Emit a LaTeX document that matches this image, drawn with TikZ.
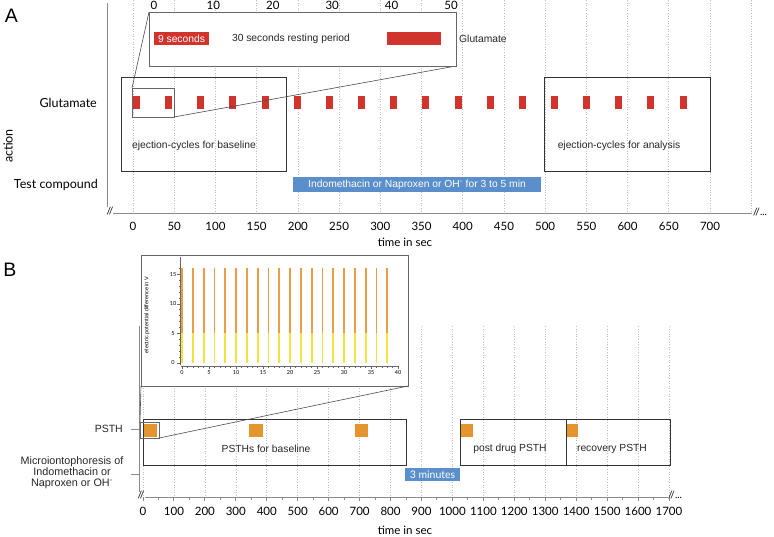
\documentclass[tikz,border=0pt]{standalone}
\usepackage{fontspec}
\setmainfont{Liberation Sans}
\newfontfamily\gill{Lato}
\definecolor{gred}{HTML}{D0342C}
\definecolor{gblue}{HTML}{5B8FCB}
\definecolor{gorange}{HTML}{E5952E}
\definecolor{gorangel}{HTML}{E69F45}
\definecolor{gyellow}{HTML}{F3E33C}
\definecolor{gridc}{HTML}{BDBDBD}
\definecolor{axisc}{HTML}{8A8A8A}
\definecolor{boxc}{HTML}{333333}
\begin{document}
\begin{tikzpicture}[x=1pt,y=-1pt,
  gridline/.style={gridc, dotted, line width=0.6pt},
  axisline/.style={axisc, line width=0.9pt},
  framebox/.style={draw=boxc, line width=0.7pt},
  zoombox/.style={draw=black!60, line width=0.6pt},
  zoomline/.style={black!70, line width=0.6pt},
  lbl/.style={font=\gill\fontsize{12.5}{14}\selectfont, inner sep=0pt},
  ticklbl/.style={font=\gill\fontsize{11.5}{13}\selectfont, inner sep=0pt},
  boxtext/.style={font=\fontsize{10.3}{12}\selectfont, text=black!85, inner sep=0pt},
  bigletter/.style={font=\fontsize{19.5}{22}\selectfont, inner sep=0pt},
  tinylbl/.style={font=\gill\fontsize{5.5}{6}\selectfont, inner sep=0pt}
]
\useasboundingbox (0,0) rectangle (774,536);

%================ Panel A ================
\foreach \t in {0,50,...,750} \draw[gridline] ({133+0.8243*\t},0) -- ({133+0.8243*\t},213);

\node[bigletter] (Alabel) at (11.5,16) {A};
\coordinate (Ay0) at (107,3);
\coordinate (Ay1) at (107,207);
\draw[axisline] (Ay0) -- (Ay1);
\node[ticklbl, font=\gill\fontsize{10}{12}\selectfont] (Abreak) at (110,211) {//};
\coordinate (Ax0) at (113,213);
\coordinate (Ax1) at (752,213);
\draw[axisline] (Ax0) -- (Ax1);
\node[ticklbl, font=\gill\fontsize{10}{12}\selectfont, anchor=west] (Aend) at (753,212) {//...};
\foreach \t in {0,50,...,700} \node[ticklbl] (At\t) at ({133+0.8243*\t},226) {\t};
\node[ticklbl] (Atime) at (405,242) {time in sec};

\node[lbl, anchor=east] (Aglu) at (97,103) {Glutamate};
\node[lbl, anchor=east] (Atest) at (98,185) {Test compound};
\node[lbl, rotate=90] (Aaction) at (8,146) {action};

% pulses
\foreach \k in {0,...,17} \fill[gred] ({133+32.15*\k},96) rectangle ++(7,13);

% boxes
\draw[framebox] (121,77) rectangle (286,171);
\node[boxtext, anchor=west] (Abase) at (132,146) {ejection-cycles for baseline};
\draw[framebox] (544,77) rectangle (710,171);
\node[boxtext] (Aanal) at (619,146) {ejection-cycles for analysis};

% zoom box and inset
\draw[zoombox] (132,88) rectangle (174,117);
\coordinate (zA1) at (132,88);
\coordinate (zA2) at (174,117);
\coordinate (iA1) at (149,12);
\coordinate (iA2) at (456,66);
\draw[zoomline] (zA1) -- (iA1);
\draw[zoomline] (zA2) -- (iA2);
\draw[fill=white, draw=black!60, line width=0.6pt] (149,12) rectangle (456,66);
\foreach \s in {0,10,...,50} \node[ticklbl] (Ai\s) at ({154+5.94*\s},5.5) {\s};
\node[fill=gred, text=white, minimum width=55pt, minimum height=13pt, inner sep=0pt, font=\fontsize{10.3}{12}\selectfont] (Anine) at (181.5,38.5) {9 seconds};
\node[boxtext] (Arest) at (291,38.5) {30 seconds resting period};
\fill[gred] (387,32) rectangle (441,45);
\node[boxtext, anchor=west] (Aiglu) at (459,38.5) {Glutamate};

% test compound bar
\node[fill=gblue, text=white, minimum width=248pt, minimum height=15pt, inner sep=0pt, font=\fontsize{10.3}{12}\selectfont] (Ablue) at (417,184.5) {Indomethacin or Naproxen or OH\textsuperscript{-} for 3 to 5 min};

%================ Panel B ================
\foreach \t in {0,100,...,1700} \draw[gridline] ({143+0.3094*\t},326) -- ({143+0.3094*\t},497);

\node[bigletter] (Blabel) at (10,270) {B};
\coordinate (By0) at (139,326);
\coordinate (By1) at (139,492);
\draw[axisline] (By0) -- (By1);
\node[ticklbl, font=\gill\fontsize{10}{12}\selectfont] (Bbreak) at (141,495) {//};
\coordinate (Bx0) at (145,497);
\coordinate (Bx1) at (668,497);
\draw[axisline] (Bx0) -- (Bx1);
\foreach \t in {0,100,...,1700} \draw[axisline] ({143+0.3094*\t},497) -- ++(0,4);
\foreach \t in {50,150,...,1650} \draw[axisline] ({143+0.3094*\t},497) -- ++(0,2.5);
\node[ticklbl, font=\gill\fontsize{10}{12}\selectfont, anchor=west] (Bend) at (668,495) {//...};
\foreach \t in {0,100,...,1700} \node[ticklbl] (Bt\t) at ({143+0.3094*\t},511) {\t};
\node[ticklbl] (Btime) at (405,530) {time in sec};

\node[boxtext, font=\fontsize{10.5}{12}\selectfont, anchor=east] (Bpsth) at (123,429) {PSTH};
\draw[axisline] (131,429) -- (139,429);
\node[boxtext, font=\fontsize{10.8}{11.2}\selectfont, align=center] (Bmicro) at (72,472.5) {Microiontophoresis of\\Indomethacin or\\Naproxen or OH\textsuperscript{-}};
\draw[axisline] (131,474) -- (139,474);

% inset B
\draw[fill=white, draw=black!60, line width=0.6pt] (141,255) rectangle (408,386);
% inset axes
\draw[black!60, line width=0.5pt] (180,257) -- (180,365);
\draw[black!60, line width=0.5pt] (181,366) -- (398,366);
\foreach \v in {0,1,...,16} \draw[black!60, line width=0.4pt] (180,{363-5.93*\v}) -- ++(-1.5,0);
\foreach \v in {0,5,10,15} {
  \draw[black!60, line width=0.4pt] (180,{363-5.93*\v}) -- ++(-3,0);
  \node[tinylbl] (By\v) at (173,{363-5.93*\v}) {\v};
}
\foreach \v in {0,1,...,40} \draw[black!60, line width=0.4pt] ({182+5.4*\v},366) -- ++(0,1.5);
\foreach \v in {0,5,...,40} {
  \draw[black!60, line width=0.4pt] ({182+5.4*\v},366) -- ++(0,3);
  \node[tinylbl] (Bx\v) at ({182+5.4*\v},373) {\v};
}
\node[font=\fontsize{5.5}{6}\selectfont, rotate=90, inner sep=0pt] (Bylab) at (147,315) {electric potential difference in V};
\foreach \v in {0,2,...,38} {
  \fill[gyellow] ({182+5.4*\v-0.9},363) rectangle ({182+5.4*\v+0.9},{363-5.93*5});
  \fill[gorangel] ({182+5.4*\v-0.9},{363-5.93*5}) rectangle ({182+5.4*\v+0.9},{363-5.93*16});
}

% PSTH boxes
\draw[framebox] (143,419) rectangle (406,465);
\draw[framebox] (460,419) rectangle (566,465);
\draw[framebox] (566,419) rectangle (670,465);
\fill[gorange] (144,424) rectangle (157,437);
\fill[gorange] (249,424) rectangle (263,437);
\fill[gorange] (355,424) rectangle (368,437);
\fill[gorange] (461,424) rectangle (473,437);
\fill[gorange] (566.5,424) rectangle (578,437);
\node[boxtext] (Bbase) at (266,449) {PSTHs for baseline};
\node[boxtext] (Bpost) at (510,449) {post drug PSTH};
\node[boxtext] (Brec) at (612,449) {recovery PSTH};

% zoom box B
\draw[zoombox] (140,422) rectangle (159,438);
\coordinate (zB1) at (140,422);
\coordinate (zB2) at (159,438);
\coordinate (iB1) at (141,386);
\coordinate (iB2) at (408,386);
\draw[zoomline] (zB1) -- (iB1);
\draw[zoomline] (zB2) -- (iB2);

% 3 minutes
\node[fill=gblue, text=white, minimum width=55pt, minimum height=13pt, inner sep=0pt, font=\gill\fontsize{10.5}{12}\selectfont] (Bthree) at (432.5,474.5) {3 minutes};
\end{tikzpicture}
\end{document}
